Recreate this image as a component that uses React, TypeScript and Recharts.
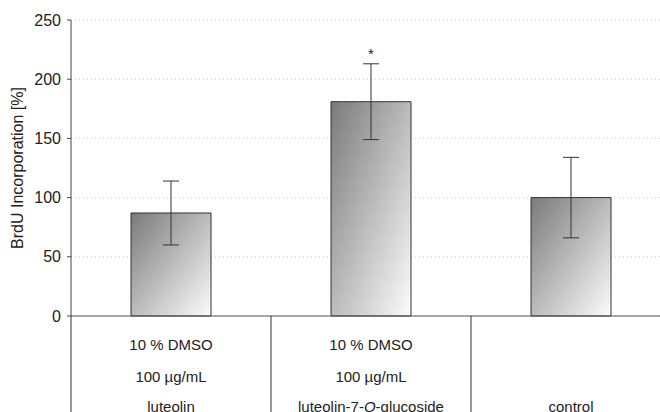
// BrdU incorporation bar chart with a category table below the axis

import { BarChart, Bar, XAxis, YAxis, CartesianGrid, ErrorBar, ReferenceDot } from "recharts";

const groups = ["luteolin", "luteolin-7-O-glucoside", "control"];
const solventLine = ["10 % DMSO", "10 % DMSO", ""];
const doseLine = ["100 µg/mL", "100 µg/mL", ""];
const incorporation = [87, 181, 100];
const stdDev = [27, 32, 34];
const yTicks = [0, 50, 100, 150, 200, 250];

const data = groups.map((name, i) => ({
  name,
  solvent: solventLine[i],
  dose: doseLine[i],
  value: incorporation[i],
  err: stdDev[i],
}));

const FONT = "'Liberation Sans', Arial, sans-serif";

function GroupName({ name }: { name: string }) {
  // italic O in luteolin-7-O-glucoside
  const m = name.match(/^(.*-)O(-.*)$/);
  if (!m) return <>{name}</>;
  return (
    <>
      <tspan>{m[1]}</tspan>
      <tspan fontStyle="italic">O</tspan>
      <tspan>{m[2]}</tspan>
    </>
  );
}

function TableTick(props: any) {
  const { x, y, payload, index } = props;
  const row = data[index] ?? data.find((d) => d.name === payload.value);
  const left = x - 100;
  return (
    <g>
      <line x1={left} y1={y - 8} x2={left} y2={412} stroke="#333" strokeWidth={1} />
      <text x={x} y={y + 26} textAnchor="middle" fontSize={15} fill="#222" fontFamily={FONT}>
        {row?.solvent}
      </text>
      <text x={x} y={y + 58} textAnchor="middle" fontSize={15} fill="#222" fontFamily={FONT}>
        {row?.dose}
      </text>
      <text x={x} y={y + 88} textAnchor="middle" fontSize={15} fill="#222" fontFamily={FONT}>
        <GroupName name={payload.value} />
      </text>
    </g>
  );
}

export default function App() {
  return (
    <div
      style={{
        position: "absolute",
        left: 0,
        top: 0,
        width: 660,
        height: 412,
        overflow: "hidden",
        background: "#fff",
      }}
    >
      <BarChart
        width={680}
        height={412}
        data={data}
        margin={{ top: 20, right: 9, bottom: 0, left: 0 }}
        barCategoryGap={0}
      >
        <defs>
          <linearGradient id="barShade" x1="0" y1="0" x2="1" y2="1">
            <stop offset="0%" stopColor="#7a7a7a" />
            <stop offset="100%" stopColor="#fcfcfc" />
          </linearGradient>
        </defs>
        <CartesianGrid vertical={false} stroke="#c8c8c8" strokeDasharray="1 3" />
        <XAxis
          dataKey="name"
          height={96}
          interval={0}
          tickLine={false}
          axisLine={{ stroke: "#555" }}
          tick={<TableTick />}
        />
        <YAxis
          width={71}
          domain={[0, 250]}
          ticks={yTicks}
          tickSize={4}
          tickMargin={6}
          axisLine={{ stroke: "#444" }}
          tickLine={{ stroke: "#444" }}
          tick={{ fontSize: 16, fill: "#222", fontFamily: FONT }}
          label={{
            value: "BrdU Incorporation [%]",
            angle: -90,
            position: "insideLeft",
            offset: 17,
            style: { fontSize: 16, fill: "#222", fontFamily: FONT, textAnchor: "middle" },
          }}
        />
        <Bar
          dataKey="value"
          barSize={80}
          fill="url(#barShade)"
          stroke="#333"
          strokeWidth={1}
          isAnimationActive={false}
        >
          <ErrorBar dataKey="err" width={8} stroke="#333" strokeWidth={1} />
        </Bar>
        <ReferenceDot
          x={groups[1]}
          y={incorporation[1] + stdDev[1]}
          r={0}
          fill="none"
          stroke="none"
          label={{ value: "*", position: "top", offset: 5, fontSize: 15, fill: "#222", fontFamily: FONT }}
        />
      </BarChart>
    </div>
  );
}
